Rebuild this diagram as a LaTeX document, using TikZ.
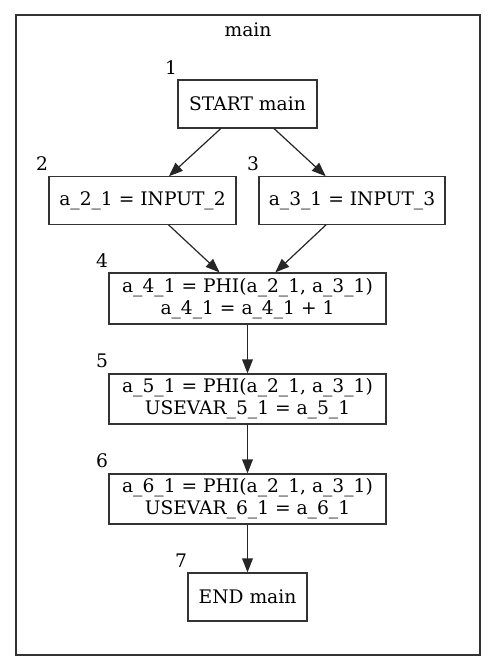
\documentclass[tikz,border=0pt]{standalone}
\usepackage{fontspec}
\setmainfont{DejaVu Serif}
\usetikzlibrary{arrows.meta}
\begin{document}
\begin{tikzpicture}[x=0.75pt,y=-0.75pt,
  font=\fontsize{14}{16.5}\selectfont,
  block/.style={draw=black!80,line width=0.9pt,align=center,inner sep=0pt},
  tag/.style={inner sep=0pt},
  flow/.style={draw=black!85,line width=0.9pt,-{Triangle[length=10.5pt,width=8pt]}}]
\useasboundingbox (0,0) rectangle (496,671);
% cluster
\draw[draw=black!80,line width=0.9pt] (16,15) rectangle (480,655);
\node[tag] (title) at (248,30) {main};
% blocks
\node[block,minimum width=104.25pt,minimum height=36pt] (n1) at (247.5,104) {START main};
\node[block,minimum width=140.25pt,minimum height=35.5pt] (n2) at (142.5,200.5) {a\_2\_1 = INPUT\_2};
\node[block,minimum width=139.5pt,minimum height=35.5pt] (n3) at (352,200.5) {a\_3\_1 = INPUT\_3};
\node[block,minimum width=207.75pt,minimum height=38.25pt] (n4) at (247.5,298.5) {a\_4\_1 = PHI(a\_2\_1, a\_3\_1)\\a\_4\_1 = a\_4\_1 + 1};
\node[block,minimum width=207.75pt,minimum height=37.5pt] (n5) at (247.5,399) {a\_5\_1 = PHI(a\_2\_1, a\_3\_1)\\USEVAR\_5\_1 = a\_5\_1};
\node[block,minimum width=207.75pt,minimum height=37.5pt] (n6) at (247.5,499) {a\_6\_1 = PHI(a\_2\_1, a\_3\_1)\\USEVAR\_6\_1 = a\_6\_1};
\node[block,minimum width=89.25pt,minimum height=36pt] (n7) at (247.5,597) {END main};
% numbers
\node[tag] (l1) at (171,68) {1};
\node[tag] (l2) at (42,164) {2};
\node[tag] (l3) at (253,164) {3};
\node[tag] (l4) at (102,261) {4};
\node[tag] (l5) at (102,361) {5};
\node[tag] (l6) at (102,461) {6};
\node[tag] (l7) at (181,561) {7};
% edges
\path[flow] (n1) -- (n2);
\path[flow] (n1) -- (n3);
\path[flow] (n2) -- (n4);
\path[flow] (n3) -- (n4);
\path[flow] (n4) -- (n5);
\path[flow] (n5) -- (n6);
\path[flow] (n6) -- (n7);
\end{tikzpicture}
\end{document}
